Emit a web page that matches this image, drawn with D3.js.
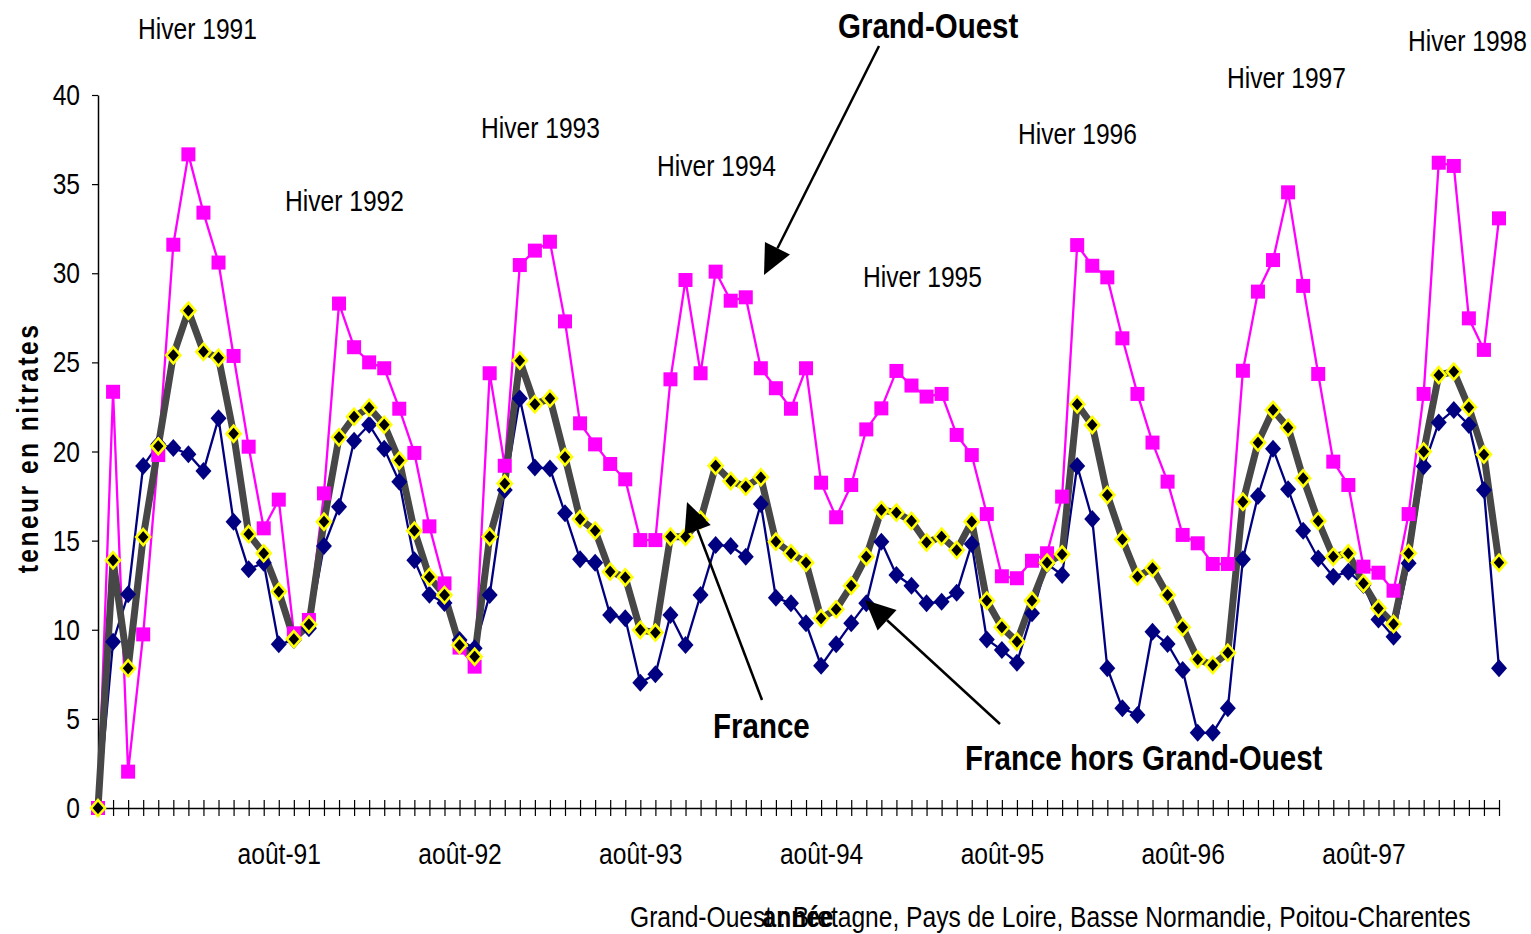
<!DOCTYPE html>
<html>
<head>
<meta charset="utf-8">
<script src="https://cdn.jsdelivr.net/npm/d3@7"></script>
<style>
  html, body { margin: 0; padding: 0; background: #ffffff; }
  svg { display: block; }
  text { font-family: 'Liberation Sans', Arial, sans-serif; fill: #000; }
</style>
</head>
<body>
<svg id="chart" width="1531" height="934"></svg>
<script>
// ---------- DATA ----------
const categories = [
  "août-90","sept-90","oct-90","nov-90","déc-90",
  "janv-91","févr-91","mars-91","avr-91","mai-91","juin-91","juil-91","août-91","sept-91","oct-91","nov-91","déc-91",
  "janv-92","févr-92","mars-92","avr-92","mai-92","juin-92","juil-92","août-92","sept-92","oct-92","nov-92","déc-92",
  "janv-93","févr-93","mars-93","avr-93","mai-93","juin-93","juil-93","août-93","sept-93","oct-93","nov-93","déc-93",
  "janv-94","févr-94","mars-94","avr-94","mai-94","juin-94","juil-94","août-94","sept-94","oct-94","nov-94","déc-94",
  "janv-95","févr-95","mars-95","avr-95","mai-95","juin-95","juil-95","août-95","sept-95","oct-95","nov-95","déc-95",
  "janv-96","févr-96","mars-96","avr-96","mai-96","juin-96","juil-96","août-96","sept-96","oct-96","nov-96","déc-96",
  "janv-97","févr-97","mars-97","avr-97","mai-97","juin-97","juil-97","août-97","sept-97","oct-97","nov-97","déc-97",
  "janv-98","févr-98","mars-98","avr-98","mai-98"
];

const grandOuest = [
  0, 23.35, 2.04, 9.74, 19.8, 31.6, 36.67, 33.4, 30.6, 25.36, 20.27, 15.69, 17.3, 9.8, 10.55, 17.65,
  28.3, 25.85, 25.0, 24.67, 22.4, 19.92, 15.8, 12.6, 9.0, 7.93, 24.39, 19.2, 30.46, 31.27, 31.77, 27.3,
  21.58, 20.4, 19.3, 18.44, 15.03, 15.03, 24.05, 29.62, 24.39, 30.09, 28.46, 28.65, 24.67, 23.55, 22.4, 24.67,
  18.25, 16.31, 18.12, 21.24, 22.42, 24.52, 23.7, 23.08, 23.23, 20.93, 19.8, 16.49, 13.0, 12.89, 13.87, 14.29,
  17.47, 31.58, 30.42, 29.77, 26.35, 23.23, 20.5, 18.31, 15.32, 14.85, 13.69, 13.69, 24.53, 28.97, 30.74, 34.54,
  29.29, 24.35, 19.43, 18.12, 13.54, 13.2, 12.19, 16.49, 23.23, 36.2, 36.02, 27.47, 25.7, 33.08
];

const horsGrandOuest = [
  0, 9.33, 11.99, 19.19, 20.4, 20.2, 19.85, 18.9, 21.86, 16.06, 13.39, 13.76, 9.18, 9.42, 10.08, 14.7,
  16.9, 20.6, 21.5, 20.15, 18.3, 13.9, 11.97, 11.5, 9.42, 8.96, 11.95, 17.84, 22.98, 19.1, 19.05, 16.53,
  13.95, 13.76, 10.83, 10.64, 7.03, 7.5, 10.83, 9.14, 11.95, 14.75, 14.7, 14.1, 17.05, 11.8, 11.48, 10.36,
  7.98, 9.18, 10.36, 11.48, 14.94, 13.07, 12.47, 11.48, 11.57, 12.08, 14.81, 9.46, 8.86, 8.15, 10.92, 13.69,
  13.07, 19.19, 16.21, 7.84, 5.59, 5.22, 9.89, 9.2, 7.74, 4.22, 4.22, 5.59, 13.95, 17.5, 20.15, 17.88,
  15.56, 14.0, 12.98, 13.26, 12.51, 10.58, 9.61, 13.73, 19.17, 21.62, 22.33, 21.49, 17.84, 7.84
];

const france = [
  0, 13.9, 7.84, 15.2, 20.3, 25.4, 27.9, 25.6, 25.26, 21.0, 15.37, 14.29, 12.14, 9.48, 10.3, 16.06,
  20.8, 21.95, 22.46, 21.5, 19.5, 15.56, 12.96, 11.95, 9.14, 8.49, 15.22, 18.2, 25.1, 22.65, 22.98, 19.69,
  16.21, 15.56, 13.26, 12.94, 9.99, 9.84, 15.22, 15.22, 16.16, 19.2, 18.35, 18.03, 18.55, 14.94, 14.29, 13.76,
  10.64, 11.15, 12.47, 14.1, 16.72, 16.57, 16.1, 14.9, 15.22, 14.47, 16.06, 11.63, 10.14, 9.33, 11.63, 13.76,
  14.23, 22.65, 21.49, 17.56, 15.07, 12.98, 13.45, 11.95, 10.14, 8.34, 8.02, 8.71, 17.18, 20.5, 22.33, 21.34,
  18.5, 16.1, 14.1, 14.29, 12.6, 11.2, 10.32, 14.29, 20.0, 24.29, 24.48, 22.48, 19.83, 13.76
];

const xTickLabels = ["août-91","août-92","août-93","août-94","août-95","août-96","août-97"];
const yTicks = [0, 5, 10, 15, 20, 25, 30, 35, 40];

const winterLabels = ["Hiver 1991","Hiver 1992","Hiver 1993","Hiver 1994","Hiver 1995","Hiver 1996","Hiver 1997","Hiver 1998"];
const seriesNames = ["Grand-Ouest", "France", "France hors Grand-Ouest"];
const yTitle = "teneur en nitrates";
const xTitle = "année";
const footnote = "Grand-Ouest : Bretagne, Pays de Loire, Basse Normandie, Poitou-Charentes";

// ---------- LAYOUT ----------
const NARROW = 0.82; // condensed look of the original narrow font
const svg = d3.select("#chart");
const x = d3.scalePoint().domain(categories).range([98, 1499]);
const y = d3.scaleLinear().domain([0, 40]).range([808, 95]);

const winterPos = [[138, 39], [285, 211], [481, 138], [657, 176], [863, 287], [1018, 144], [1227, 88], [1408, 51]];
const seriesLabelPos = [[838, 38], [713, 738], [965, 770]];

function narrowText(g, tx, ty, str, size, weight, anchor) {
  return g.append("text")
    .attr("transform", `translate(${tx},${ty}) scale(${NARROW},1)`)
    .attr("font-size", size)
    .attr("font-weight", weight || "normal")
    .attr("text-anchor", anchor || "start")
    .text(str);
}

// ---------- AXES ----------
const yAxis = svg.append("g")
  .attr("transform", "translate(98,0)")
  .call(d3.axisLeft(y).tickValues(yTicks).tickSize(6).tickSizeOuter(0).tickPadding(12));
yAxis.select(".domain").attr("stroke", "#000").attr("stroke-width", 1.5);
yAxis.selectAll(".tick line").attr("stroke", "#000").attr("stroke-width", 1.2);
yAxis.selectAll(".tick text")
  .attr("font-size", 30)
  .attr("x", -18 / NARROW)
  .attr("transform", `scale(${NARROW},1)`)
  .style("font-family", "'Liberation Sans', Arial, sans-serif");

const xAxis = svg.append("g")
  .attr("transform", "translate(0,808)")
  .call(d3.axisBottom(x).tickSize(8).tickSizeOuter(0)
    .tickFormat(d => xTickLabels.includes(d) ? d : ""));
xAxis.select(".domain").attr("stroke", "#000").attr("stroke-width", 1.5);
xAxis.selectAll(".tick line").attr("y1", -8).attr("y2", 8).attr("stroke", "#000").attr("stroke-width", 1.2);
xAxis.selectAll(".tick text")
  .attr("font-size", 30).attr("y", 56).attr("dy", 0)
  .attr("transform", `scale(${NARROW},1)`)
  .style("font-family", "'Liberation Sans', Arial, sans-serif");

// ---------- SERIES ----------
const line = d3.line().x((d, i) => x(categories[i])).y(d => y(d));

svg.append("path").datum(grandOuest).attr("d", line)
  .attr("fill", "none").attr("stroke", "#FF00FF").attr("stroke-width", 2.3);
svg.append("path").datum(horsGrandOuest).attr("d", line)
  .attr("fill", "none").attr("stroke", "#000080").attr("stroke-width", 2.3);
svg.append("path").datum(france).attr("d", line)
  .attr("fill", "none").attr("stroke", "#474747").attr("stroke-width", 7).attr("stroke-linejoin", "round");

const sq = 14;
svg.append("g").selectAll("rect").data(grandOuest).join("rect")
  .attr("x", (d, i) => x(categories[i]) - sq / 2)
  .attr("y", d => y(d) - sq / 2)
  .attr("width", sq).attr("height", sq)
  .attr("fill", "#FF00FF");

const diamond = (cx, cy, w, h) => `M${cx},${cy - h / 2}L${cx + w / 2},${cy}L${cx},${cy + h / 2}L${cx - w / 2},${cy}Z`;

svg.append("g").selectAll("path").data(horsGrandOuest).join("path")
  .attr("d", (d, i) => diamond(x(categories[i]), y(d), 16, 18))
  .attr("fill", "#000080");

svg.append("g").selectAll("path").data(france).join("path")
  .attr("d", (d, i) => diamond(x(categories[i]), y(d), 14, 16))
  .attr("fill", "#000").attr("stroke", "#FFFF00").attr("stroke-width", 2.6);

// ---------- ANNOTATIONS ----------
const ann = svg.append("g");
winterLabels.forEach((t, i) => narrowText(ann, winterPos[i][0], winterPos[i][1], t, 30));
seriesNames.forEach((t, i) => narrowText(ann, seriesLabelPos[i][0], seriesLabelPos[i][1], t, 36, "bold"));

// arrows: [from, tip]
const arrows = [
  [[879, 46], [764, 275]],
  [[762, 700], [687, 502]],
  [[1000, 724], [865, 600]]
];
arrows.forEach(([a, b]) => {
  const dx = b[0] - a[0], dy = b[1] - a[1];
  const len = Math.hypot(dx, dy);
  const ux = dx / len, uy = dy / len;
  const L = 30, Wd = 14;
  const bx = b[0] - ux * L, by = b[1] - uy * L;
  ann.append("line")
    .attr("x1", a[0]).attr("y1", a[1]).attr("x2", bx).attr("y2", by)
    .attr("stroke", "#000").attr("stroke-width", 2.5);
  ann.append("path")
    .attr("d", `M${b[0]},${b[1]}L${bx - uy * Wd},${by + ux * Wd}L${bx + uy * Wd},${by - ux * Wd}Z`)
    .attr("fill", "#000");
});

// titles
ann.append("text")
  .attr("transform", `translate(38,448) rotate(-90) scale(${NARROW},1)`)
  .attr("text-anchor", "middle")
  .attr("font-size", 30).attr("font-weight", "bold")
  .attr("letter-spacing", 3)
  .text(yTitle);

narrowText(ann, 630, 927, footnote, 30);
narrowText(ann, 798, 927, xTitle, 30, "bold", "middle");
</script>
</body>
</html>
